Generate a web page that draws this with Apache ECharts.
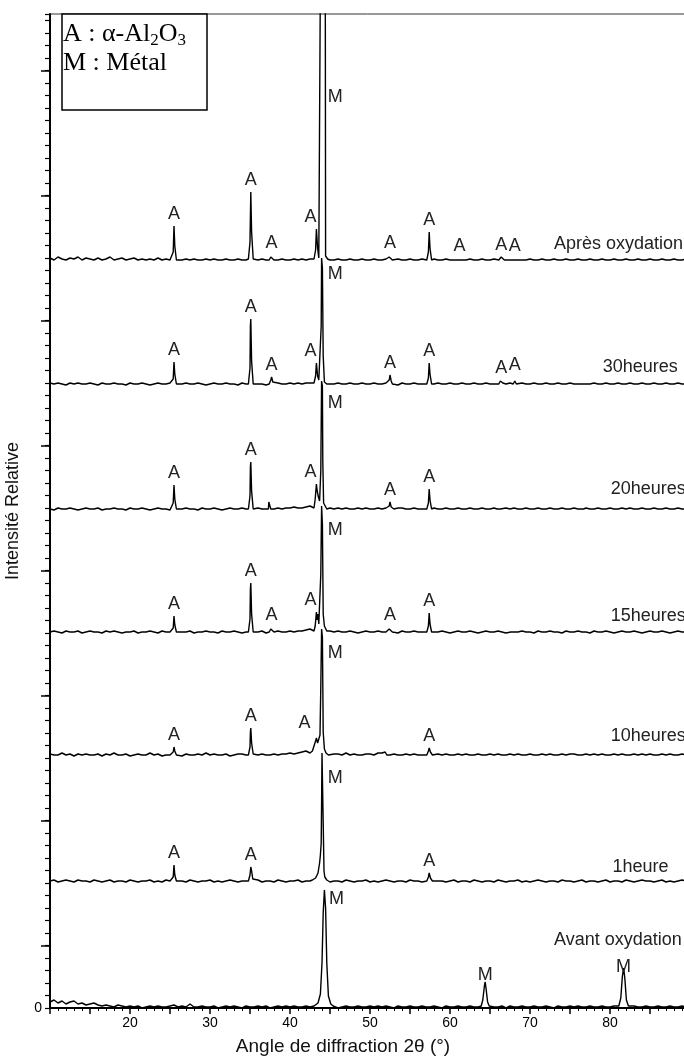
<!DOCTYPE html>
<html>
<head>
<meta charset="utf-8">
<script src="https://cdn.jsdelivr.net/npm/echarts@6/dist/echarts.min.js"></script>
<style>
  html, body { margin: 0; padding: 0; background: #fff; }
  #chart { width: 684px; height: 1059px; }
</style>
</head>
<body>
<div id="chart"></div>
<script>
// noms des diagrammes, du bas vers le haut
var traceNames = ['Avant oxydation', '1heure', '10heures', '15heures', '20heures', '30heures', 'Après oxydation'];
// décalage vertical de chaque diagramme
var traceOffsets = [0, 125, 251, 374, 497, 622, 746];
// graduations longues de l'axe vertical
var longTicks = [62.5, 187.5, 312.5, 437.5, 562.5, 687.5, 812.5, 937.5];

// bruit de fond, un point tous les 0.5° à partir de 10°
var noiseStart = 10, noiseStep = 0.5;
var noiseAvant = [6,8,5,7,4,6,7,4,5,3, 4,5,3,2,3,2,1,3,2,1, 2,1,2,0,1,2,1,2,1,1, 2,3,1,2,1,4,1,1,2,1, 1,2,0,1,2,1,2,1,0,2, 1,1,2,1,2,0,1,2,1,2, 1,2,1,1,2,1,2,1,1,2, 1,2,0,1,2,1,1,2,1,1, 2,1,2,1,2,1,0,2,1,1, 2,1,1,2,1,1,2,1,0,2, 1,1,2,1,1,2,1,1,2,1, 2,1,1,2,0,2,1,1,2,1, 1,2,1,1,2,1,0,2,1,1, 2,1,2,1,1,2,1,1,2,1, 1,2,1,0,2,1,2,1,1,2, 1,1,2,1,1,2,1,1,2,1, 2,1,1,2,1,1,2];
var noise1h = [2,3,1,2,3,2,1,3,2,2, 1,3,2,1,2,3,1,2,2,1, 3,2,1,2,2,3,1,2,1,3, 2,1,2,2,1,3,2,1,2,2, 3,1,2,1,2,3,2,1,2,2, 1,2,3,1,2,2,1,3,2,1, 2,2,3,1,2,2,1,2,3,2, 1,2,2,1,3,2,1,2,2,3, 1,2,1,2,3,2,1,2,2,1, 3,2,2,1,2,3,1,2,2,1, 2,3,1,2,2,1,3,2,1,2, 2,1,3,2,1,2,2,3,1,2, 1,2,3,2,1,2,2,1,3,2, 2,1,2,3,1,2,2,1,2,3, 1,2,2,1,3,2,1,2,3,2, 2,1,2,3,1,2,1,2,3,2, 1,2,2,3,1,2,2];
var noise10h = [3,2,2,4,2,3,1,3,2,3, 2,2,3,1,3,2,4,2,2,3, 1,2,3,2,2,4,2,3,1,2, 2,3,2,1,3,2,2,3,2,4, 2,3,2,2,3,1,2,3,3,2, 2,4,2,3,2,2,3,2,3,3, 4,3,4,5,6,8,7,3,3,4, 2,3,3,2,4,2,3,2,2,3, 3,2,4,4,3,2,3,2,2,3, 2,3,2,2,3,2,2,3,2,3, 2,2,3,2,3,2,2,3,2,2, 3,2,3,2,2,3,2,3,2,2, 3,2,2,3,2,3,2,2,3,2, 3,3,2,2,3,2,3,2,3,2, 2,3,2,3,2,2,3,2,3,2, 3,2,2,3,2,3,2,2,3,2, 2,3,2,3,2,2,3];
var noise15h = [2,3,2,1,3,2,2,3,1,2, 3,2,2,1,3,2,3,2,1,2, 2,3,1,2,2,3,2,1,3,2, 2,1,3,2,2,3,1,2,2,3, 2,2,1,3,2,2,3,2,1,2, 3,2,2,3,1,2,2,3,2,2, 3,2,3,3,4,5,4,3,3,5, 3,2,3,2,2,3,2,1,2,3, 2,2,3,2,2,3,2,1,3,2, 2,3,2,2,1,3,2,2,3,2, 1,2,3,2,2,3,2,1,2,3, 2,2,3,2,1,3,2,2,3,2, 2,1,3,2,2,3,2,2,1,3, 2,2,3,2,2,1,3,2,2,3, 2,1,2,3,2,2,3,2,1,2, 3,2,2,3,2,1,2,3,2,2, 3,2,1,2,3,2,2];
var noise20h = [2,1,3,2,2,3,2,1,2,3, 2,2,3,1,2,2,3,2,2,1, 3,2,2,3,2,1,2,3,2,2, 1,3,2,2,3,2,2,1,3,2, 2,3,2,1,2,3,2,2,3,2, 1,2,3,2,2,3,2,3,2,3, 3,4,3,3,4,5,5,4,4,3, 3,2,3,2,3,2,2,3,2,3, 2,2,3,2,3,2,2,3,3,2, 2,3,2,2,3,2,3,2,2,3, 2,2,3,2,2,3,2,2,3,2, 2,3,2,2,3,2,3,2,2,3, 2,2,3,2,2,3,2,2,3,2, 2,3,2,2,3,2,2,3,2,2, 3,2,2,3,2,3,2,2,3,2, 2,3,2,2,3,2,2,3,2,2, 3,2,2,3,2,2,3];
var noise30h = [3,2,3,2,1,3,2,3,2,2, 3,2,1,3,2,2,3,2,2,1, 3,2,2,3,2,1,2,3,2,2, 3,1,2,2,3,2,2,3,2,1, 2,3,2,2,3,2,2,1,3,2, 2,3,2,2,1,3,2,3,2,2, 3,2,3,2,3,3,4,4,3,3, 2,2,3,2,2,3,2,2,3,2, 2,3,2,2,3,2,2,1,3,2, 2,3,2,2,3,2,2,3,2,2, 3,2,2,3,2,2,3,2,2,3, 2,2,3,2,2,3,2,2,3,2, 2,3,2,2,3,2,2,3,2,2, 3,2,2,3,2,2,3,2,2,3, 2,2,3,2,2,3,2,2,3,2, 2,3,2,2,3,2,2,3,2,2, 3,2,2,3,2,2,3];
var noiseApres = [4,2,5,3,2,4,3,5,2,4, 3,2,4,2,3,5,2,3,4,2, 3,4,2,3,2,3,2,4,2,3, 2,3,2,2,3,2,3,2,2,3, 2,3,2,2,3,2,2,3,2,2, 3,2,2,3,2,2,3,2,3,2, 2,3,2,3,2,3,3,3,3,2, 2,2,3,2,2,3,2,2,3,2, 2,3,2,2,3,2,2,3,2,2, 3,2,2,3,2,2,3,2,2,3, 2,2,3,2,2,3,2,2,3,2, 2,3,2,2,3,2,2,3,2,2, 3,2,2,3,2,2,3,2,2,3, 2,2,3,2,2,3,2,2,3,2, 2,3,2,2,3,2,2,3,2,2, 3,2,2,3,2,2,3,2,2,3, 2,2,3,2,2,3,2];

// pics : [2θ, intensité au-dessus de la ligne de base]
var peaksAvant = [
  [[43.2,2],[43.5,5],[43.8,14],[44.0,45],[44.15,95],[44.3,118],[44.45,100],[44.6,45],[44.8,12],[45.1,4],[45.4,2]],
  [[63.9,2],[64.1,8],[64.3,22],[64.4,26],[64.5,20],[64.7,6],[64.9,2]],
  [[81.1,2],[81.35,10],[81.55,32],[81.7,40],[81.85,30],[82.05,8],[82.3,2]]
];
var peaks1h = [
  [[25.2,2],[25.4,6],[25.5,18],[25.6,8],[25.8,2]],
  [[34.8,2],[35.0,8],[35.1,16],[35.2,12],[35.35,4],[35.6,2]],
  [[42.8,3],[43.2,5],[43.5,10],[43.7,20],[43.8,28],[43.9,40],[43.95,80],[44.0,130],[44.1,128],[44.15,60],[44.25,12],[44.35,6],[44.6,3]],
  [[57.1,2],[57.3,6],[57.4,10],[57.55,5],[57.8,2]]
];
var peaks10h = [
  [[25.2,2],[25.4,5],[25.5,10],[25.6,6],[25.8,2]],
  [[34.8,2],[35.0,10],[35.05,25],[35.1,29],[35.2,14],[35.4,3]],
  [[42.5,4],[42.8,6],[43.0,8],[43.2,16],[43.3,19],[43.45,14],[43.6,18],[43.75,22],[43.85,70],[43.95,128],[44.05,120],[44.15,25],[44.3,8],[44.5,4],[44.8,2]],
  [[51.7,2],[51.9,5],[52.1,2]],
  [[57.1,2],[57.3,6],[57.4,9],[57.55,5],[57.8,2]]
];
var peaks15h = [
  [[25.2,2],[25.4,6],[25.5,18],[25.6,9],[25.8,2]],
  [[34.8,2],[35.0,15],[35.05,45],[35.1,51],[35.2,20],[35.4,2]],
  [[37.4,2],[37.6,5],[37.7,7],[37.85,4],[38.0,2]],
  [[43.0,3],[43.15,8],[43.3,22],[43.4,14],[43.5,20],[43.6,10],[43.75,12],[43.85,60],[43.95,128],[44.05,110],[44.15,20],[44.3,8],[44.6,3]],
  [[52.2,2],[52.4,5],[52.5,7],[52.65,4],[52.8,2]],
  [[57.1,2],[57.3,8],[57.4,21],[57.5,10],[57.7,2]],
  [[67.6,2],[67.8,4],[68.0,2]]
];
var peaks20h = [
  [[25.2,2],[25.4,8],[25.5,26],[25.6,12],[25.8,2]],
  [[34.8,2],[35.0,15],[35.05,44],[35.1,49],[35.2,20],[35.4,2]],
  [[37.3,2],[37.35,9],[37.55,9],[37.6,2]],
  [[43.0,3],[43.15,12],[43.3,27],[43.4,20],[43.55,14],[43.7,10],[43.85,40],[43.95,130],[44.05,125],[44.1,50],[44.2,8],[44.4,5],[44.6,2]],
  [[52.2,2],[52.4,5],[52.5,9],[52.65,4],[52.8,2]],
  [[57.1,2],[57.3,8],[57.4,22],[57.5,11],[57.7,2]],
  [[65.9,2],[66.1,4],[66.3,2]],
  [[76.3,2],[76.5,4],[76.7,2]]
];
var peaks30h = [
  [[25.2,2],[25.4,7],[25.5,24],[25.6,12],[25.8,2]],
  [[34.8,2],[35.0,18],[35.05,60],[35.1,67],[35.2,25],[35.4,2]],
  [[37.4,2],[37.6,6],[37.7,9],[37.85,4],[38.0,2]],
  [[43.0,3],[43.2,10],[43.3,23],[43.45,10],[43.6,6],[43.8,8],[43.9,60],[43.95,128],[44.05,118],[44.15,30],[44.3,4],[44.6,2]],
  [[52.2,2],[52.4,6],[52.5,11],[52.65,5],[52.8,2]],
  [[57.1,2],[57.3,8],[57.4,23],[57.5,12],[57.7,2]],
  [[66.1,2],[66.3,5],[66.4,6],[66.6,3],[66.8,2]],
  [[67.9,2],[68.1,5],[68.3,2]],
  [[76.3,2],[76.5,4],[76.7,2]]
];
var peaksApres = [
  [[25.2,2],[25.4,10],[25.5,36],[25.6,16],[25.8,2]],
  [[34.8,3],[35.0,20],[35.1,70],[35.2,30],[35.4,3]],
  [[37.4,2],[37.6,5],[37.7,7],[37.85,4],[38.0,2]],
  [[43.0,3],[43.2,12],[43.3,33],[43.45,14],[43.6,4],[43.85,4],[43.95,500],[44.0,1100],[44.3,1100],[44.38,500],[44.45,6],[44.7,3]],
  [[52.2,2],[52.4,5],[52.5,7],[52.65,4],[52.8,2]],
  [[57.1,2],[57.3,10],[57.4,30],[57.5,14],[57.7,2]],
  [[61.0,2],[61.2,4],[61.4,2]],
  [[66.1,2],[66.3,4],[66.4,5],[66.6,3],[66.8,2]],
  [[67.9,2],[68.1,4],[68.3,2]]
];

// repères A / M : [2θ, lettre, hauteur au-dessus de la ligne de base]
var marksAvant = [[44.5,'M',109],[64.4,'M',24],[81.7,'M',32]];
var marks1h = [[25.5,'A',18],[35.1,'A',16],[57.4,'A',10],[44.35,'M',105]];
var marks10h = [[25.5,'A',10],[35.1,'A',29],[41.8,'A',22],[57.4,'A',9],[44.35,'M',104]];
var marks15h = [[25.5,'A',18],[35.1,'A',51],[37.7,'A',7],[43.3,'A',22],[52.5,'A',7],[57.4,'A',21],[44.35,'M',104]];
var marks20h = [[25.5,'A',26],[35.1,'A',49],[43.3,'A',27],[52.5,'A',9],[57.4,'A',22],[44.35,'M',108]];
var marks30h = [[25.5,'A',24],[35.1,'A',67],[37.7,'A',9],[43.3,'A',23],[52.5,'A',11],[57.4,'A',23],[66.4,'A',6],[68.1,'A',9],[44.35,'M',112]];
var marksApres = [[25.5,'A',36],[35.1,'A',70],[37.7,'A',7],[43.3,'A',33],[52.5,'A',7],[57.4,'A',30],[61.2,'A',4],[66.4,'A',5],[68.1,'A',4],[44.35,'M',165]];

// position du nom de chaque diagramme : [2θ, hauteur]
var namePos = [[73.0,68],[80.3,16],[80.1,21],[80.1,18],[80.1,22],[79.1,19],[73.0,18]];

var noises = [noiseAvant, noise1h, noise10h, noise15h, noise20h, noise30h, noiseApres];
var peaks = [peaksAvant, peaks1h, peaks10h, peaks15h, peaks20h, peaks30h, peaksApres];
var marks = [marksAvant, marks1h, marks10h, marks15h, marks20h, marks30h, marksApres];

var FONT = '"Liberation Sans", Arial, sans-serif';

function buildTrace(noise, groups, offset) {
  var pts = [];
  noise.forEach(function(v, i) {
    var x = noiseStart + i * noiseStep;
    var inside = groups.some(function(g) {
      return x >= g[0][0] - 0.1 && x <= g[g.length - 1][0] + 0.1;
    });
    if (!inside) pts.push([x, offset + v]);
  });
  groups.forEach(function(g) {
    g.forEach(function(p) { pts.push([p[0], offset + p[1]]); });
  });
  pts.sort(function(a, b) { return a[0] - b[0]; });
  return pts;
}

var series = [];
for (var k = 0; k < traceNames.length; k++) {
  var off = traceOffsets[k];
  var mp = marks[k].map(function(m) {
    var right = (m[1] === 'M' && m[0] < 50);
    var item = {
      name: m[1],
      coord: [m[0], off + m[2]],
      label: right ? { position: 'right', distance: 3 } : { position: 'top', distance: 3 }
    };
    if (m[1] === 'A' && m[0] > 43 && m[0] < 44) item.label.offset = [-6, 0];
    if (m[1] === 'M' && m[0] > 50) item.label.distance = 0;
    return item;
  });
  mp.push({
    name: traceNames[k],
    coord: [namePos[k][0], off + namePos[k][1]],
    label: { position: 'right', distance: 0 }
  });
  series.push({
    name: traceNames[k],
    type: 'line',
    data: buildTrace(noises[k], peaks[k], off),
    showSymbol: false,
    symbol: 'none',
    lineStyle: { color: '#000', width: 1.4 },
    clip: true,
    z: 2,
    markPoint: {
      symbol: 'circle',
      symbolSize: 0,
      silent: true,
      label: { show: true, formatter: '{b}', color: '#222', fontSize: 18, fontFamily: FONT },
      data: mp
    }
  });
}

var myChart = echarts.init(document.getElementById('chart'));
var option = {
  animation: false,
  backgroundColor: '#fff',
  grid: {
    left: 50, top: 14, width: 672, height: 994,
    outerBoundsMode: 'none',
    containLabel: false,
    show: true, borderColor: '#333', borderWidth: 1, backgroundColor: 'transparent'
  },
  xAxis: {
    type: 'value',
    min: 10, max: 94, interval: 5,
    axisLine: { lineStyle: { color: '#000', width: 2 } },
    axisTick: { length: 6, lineStyle: { color: '#000', width: 1.5 } },
    minorTick: { show: true, splitNumber: 5, length: 3, lineStyle: { color: '#000', width: 1 } },
    splitLine: { show: false },
    axisLabel: {
      color: '#000', fontSize: 14, fontFamily: FONT, margin: 8,
      formatter: function(v) { return (v % 10 === 0 && v >= 20 && v <= 80) ? String(v) : ''; }
    }
  },
  yAxis: [
    {
      type: 'value',
      min: 0, max: 994, interval: 12.5,
      name: 'Intensité Relative',
      nameLocation: 'middle',
      nameGap: 28,
      nameTextStyle: { color: '#111', fontSize: 18, fontFamily: FONT },
      axisLine: { show: true, lineStyle: { color: '#000', width: 2 } },
      axisTick: { length: 5, lineStyle: { color: '#000', width: 1.2 } },
      splitLine: { show: false },
      axisLabel: {
        color: '#000', fontSize: 14, fontFamily: FONT, margin: 8,
        formatter: function(v) { return v === 0 ? '0' : ''; }
      }
    },
    {
      type: 'value',
      position: 'left',
      min: 0, max: 994,
      axisLine: { show: false },
      axisTick: { show: true, length: 9, customValues: longTicks, lineStyle: { color: '#000', width: 1.5 } },
      axisLabel: { show: false },
      splitLine: { show: false }
    }
  ],
  graphic: [
    {
      type: 'text', x: 343, y: 1047, z: 10,
      style: {
        text: 'Angle de diffraction 2θ (°)', fill: '#111',
        font: '19px "Liberation Sans", Arial, sans-serif',
        textAlign: 'center', textVerticalAlign: 'middle'
      }
    },
    {
      type: 'rect', z: 10,
      shape: { x: 62, y: 14, width: 145, height: 96 },
      style: { fill: '#fff', stroke: '#000', lineWidth: 1.5 }
    },
    {
      type: 'text', x: 63, y: 20, z: 11,
      style: {
        text: '{t|A : α-Al}{s|2}{t|O}{s|3}\n{t|M : Métal}',
        fill: '#000',
        rich: {
          t: { fontSize: 26, fontFamily: '"Liberation Serif", "Times New Roman", serif', lineHeight: 29, verticalAlign: 'middle' },
          s: { fontSize: 17, fontFamily: '"Liberation Serif", "Times New Roman", serif', lineHeight: 16, verticalAlign: 'bottom' }
        }
      }
    }
  ],
  series: series
};
myChart.setOption(option);
</script>
</body>
</html>
